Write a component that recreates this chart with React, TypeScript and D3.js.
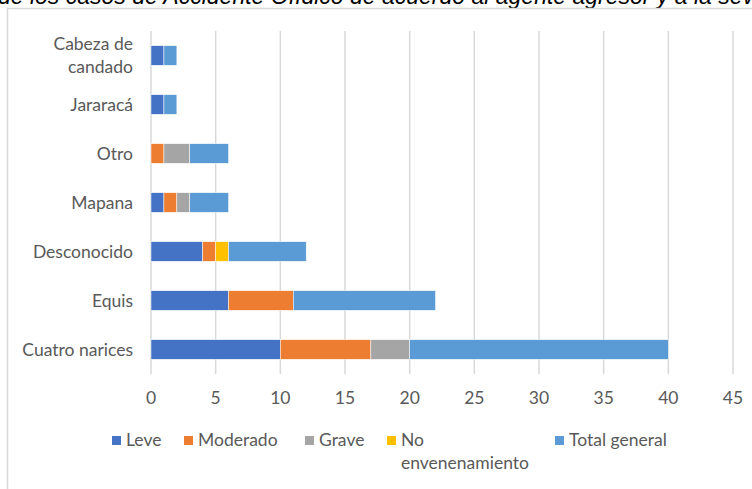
import React, { useEffect, useRef } from "react";
import * as d3 from "d3";

const categories = [
  "Cabeza de candado",
  "Jararacá",
  "Otro",
  "Mapana",
  "Desconocido",
  "Equis",
  "Cuatro narices",
];

const leve = [1, 1, 0, 1, 4, 6, 10];
const moderado = [0, 0, 1, 1, 1, 5, 7];
const grave = [0, 0, 2, 1, 0, 0, 3];
const noEnvenenamiento = [0, 0, 0, 0, 1, 0, 0];
const totalGeneral = [1, 1, 3, 3, 6, 11, 20];

const seriesNames = ["Leve", "Moderado", "Grave", "No envenenamiento", "Total general"];
const seriesColors = ["#4472C4", "#ED7D31", "#A5A5A5", "#FFC000", "#5B9BD5"];
const xTicks = [0, 5, 10, 15, 20, 25, 30, 35, 40, 45];

const titleText =
  "de los casos de Accidente Ofídico de acuerdo al agente agresor y a la severidad";

const W = 752;
const H = 489;
const FONT = "Lato, 'Open Sans', sans-serif";
const FS = 17.5;

const App: React.FC = () => {
  const svgRef = useRef<SVGSVGElement | null>(null);

  useEffect(() => {
    if (!svgRef.current) return;
    const svg = d3.select(svgRef.current);
    svg.selectAll("*").remove();

    const values = [leve, moderado, grave, noEnvenenamiento, totalGeneral];
    const rows = categories.map((c, i) => {
      const r: any = { cat: c };
      seriesNames.forEach((s, k) => (r[s] = values[k][i]));
      return r;
    });

    const x = d3.scaleLinear().domain([0, 45]).range([151, 733]);
    const y = d3.scaleBand().domain(categories).range([31, 374]).paddingInner(0.6).paddingOuter(0.3);

    // title (cut off at the top, as in the source image)
    svg
      .append("text")
      .attr("x", -2)
      .attr("y", 4)
      .attr("font-family", "'Liberation Sans', Arial, sans-serif")
      .attr("font-style", "italic")
      .attr("font-size", 23)
      .attr("fill", "#000")
      .text(titleText);

    // chart border
    svg
      .append("rect")
      .attr("x", 7.5)
      .attr("y", 8.5)
      .attr("width", W + 10)
      .attr("height", H + 10)
      .attr("fill", "#fff")
      .attr("stroke", "#D9D9D9")
      .attr("stroke-width", 1.5);

    // gridlines
    svg
      .append("g")
      .selectAll("line")
      .data(xTicks)
      .join("line")
      .attr("x1", (d) => x(d))
      .attr("x2", (d) => x(d))
      .attr("y1", 31)
      .attr("y2", 374)
      .attr("stroke", "#D9D9D9")
      .attr("stroke-width", 1.5);

    // stacked bars
    const stack = d3.stack<any>().keys(seriesNames)(rows);
    svg
      .append("g")
      .selectAll("g")
      .data(stack)
      .join("g")
      .attr("fill", (_, i) => seriesColors[i])
      .selectAll("rect")
      .data((d) => d.filter((p) => p[1] - p[0] > 0))
      .join("rect")
      .attr("x", (d) => x(d[0]))
      .attr("width", (d) => x(d[1]) - x(d[0]))
      .attr("y", (d) => y(d.data.cat)!)
      .attr("height", y.bandwidth())
      .attr("stroke", "#fff")
      .attr("stroke-width", 0.5);

    // x tick labels
    svg
      .append("g")
      .selectAll("text")
      .data(xTicks)
      .join("text")
      .attr("x", (d) => x(d))
      .attr("y", 398)
      .attr("dy", "0.35em")
      .attr("text-anchor", "middle")
      .attr("font-family", FONT)
      .attr("font-size", FS)
      .attr("fill", "#595959")
      .text((d) => d);

    // category labels
    const catG = svg.append("g");
    categories.forEach((c) => {
      const cy = y(c)! + y.bandwidth() / 2;
      const lines = c === "Cabeza de candado" ? ["Cabeza de", "candado"] : [c];
      const t = catG
        .append("text")
        .attr("text-anchor", "end")
        .attr("font-family", FONT)
        .attr("font-size", FS)
        .attr("fill", "#595959");
      lines.forEach((l, i) =>
        t
          .append("tspan")
          .attr("x", 133)
          .attr("y", cy - ((lines.length - 1) * 23) / 2 + i * 23)
          .attr("dy", "0.35em")
          .text(l)
      );
    });

    // legend
    const legendX = [112, 184, 305, 387, 555];
    const leg = svg.append("g");
    seriesNames.forEach((s, i) => {
      leg
        .append("rect")
        .attr("x", legendX[i])
        .attr("y", 436)
        .attr("width", 9)
        .attr("height", 9)
        .attr("fill", seriesColors[i]);
      const lines = s === "No envenenamiento" ? ["No", "envenenamiento"] : [s];
      const t = leg
        .append("text")
        .attr("font-family", FONT)
        .attr("font-size", FS)
        .attr("fill", "#595959");
      lines.forEach((l, k) =>
        t
          .append("tspan")
          .attr("x", legendX[i] + 14)
          .attr("y", 440 + k * 23)
          .attr("dy", "0.35em")
          .text(l)
      );
    });
  }, []);

  return (
    <svg
      ref={svgRef}
      width={W}
      height={H}
      style={{ position: "absolute", left: 0, top: 0, background: "#fff" }}
    />
  );
};

export default App;
